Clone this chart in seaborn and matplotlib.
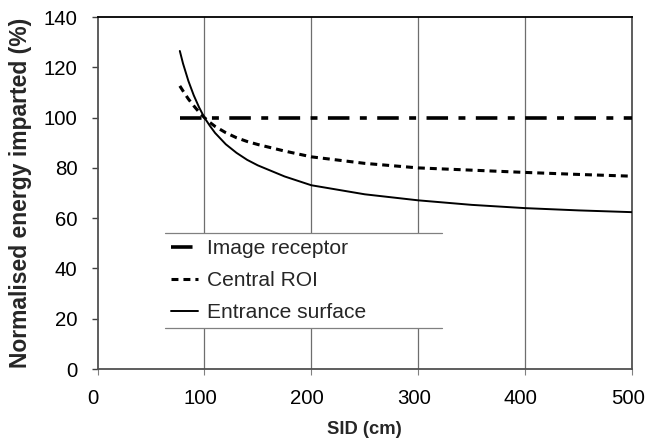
import numpy as np
import pandas as pd
import seaborn as sns
import matplotlib.pyplot as plt
import matplotlib.transforms as mtransforms
from matplotlib.lines import Line2D

# ------------------------------------------------------------
# DATA
# ------------------------------------------------------------
sid_cm = [77, 80, 85, 90, 95, 100, 105, 110, 120, 130, 140, 150, 175,
          200, 250, 300, 350, 400, 450, 500]
image_receptor = [100, 100, 100, 100, 100, 100, 100, 100, 100, 100,
                  100, 100, 100, 100, 100, 100, 100, 100, 100, 100]
central_roi = [112.6, 110.6, 107.4, 104.7, 102.2, 100.0, 98.1, 96.5, 94.0,
               92.0, 90.5, 89.3, 86.7, 84.4, 81.8, 80.0, 79.1, 78.2, 77.4,
               76.7]
entrance_surface = [126.5, 121.5, 114.6, 108.9, 104.1, 100.0, 96.8, 93.9,
                    89.4, 86.0, 83.2, 81.0, 76.6, 73.1, 69.5, 67.1, 65.3,
                    64.0, 63.1, 62.4]
series_names = ['Image receptor', 'Central ROI', 'Entrance surface']
x_ticks = [0, 100, 200, 300, 400, 500]
y_ticks = [0, 20, 40, 60, 80, 100, 120, 140]

df = pd.DataFrame({
    'SID': sid_cm * 3,
    'value': image_receptor + central_roi + entrance_surface,
    'series': np.repeat(series_names, len(sid_cm)),
})

# ------------------------------------------------------------
# STYLE
# ------------------------------------------------------------
sns.set_theme(style='white')
plt.rcParams['font.family'] = ['Liberation Sans', 'DejaVu Sans']
plt.rcParams['lines.scale_dashes'] = False
FS_TICK = 14.7
FS_LEG = 15.1

line_styles = {
    'Image receptor': dict(lw=2.6, ls=(0, (15.5, 7.5, 5.0, 7.5))),
    'Central ROI': dict(lw=2.2, ls=(0, (5.0, 3.6))),
    'Entrance surface': dict(lw=1.4, ls='-'),
}

fig = plt.figure(figsize=(6.47, 4.42), dpi=100)
ax = fig.add_axes([0.1507, 0.165, 0.8261, 0.7965])

for name in series_names:
    st = line_styles[name]
    sns.lineplot(data=df[df['series'] == name], x='SID', y='value', ax=ax,
                 color='black', lw=st['lw'], linestyle=st['ls'],
                 label=name, zorder=3)

ax.set_xlim(0, 500)
ax.set_ylim(0, 140)
ax.set_xticks(x_ticks)
ax.set_yticks(y_ticks)
for xv in x_ticks[1:-1]:
    ax.axvline(xv, color='#6e6e6e', lw=0.9, zorder=1)

ax.tick_params(axis='y', which='major', direction='out', length=4,
               width=1.0, color='#404040', pad=10.5, labelsize=FS_TICK,
               labelcolor='black', left=True)
ax.tick_params(axis='x', which='major', direction='out', length=4,
               width=0.8, color='#808080', pad=10.5, labelsize=FS_TICK,
               labelcolor='black', bottom=True)

# x tick labels sit a few pixels left of their gridlines in the reference
shift = mtransforms.ScaledTranslation(-3 / 72, 0, fig.dpi_scale_trans)
for lab in ax.get_xticklabels():
    lab.set_transform(lab.get_transform() + shift)

ax.set_xlabel('SID (cm)', fontsize=13.2, fontweight='bold', labelpad=9)
ax.set_ylabel('Normalised energy imparted (%)', fontsize=16.5,
              fontweight='bold', labelpad=8)

for side in ['left', 'bottom', 'right']:
    ax.spines[side].set_color('#505050')
    ax.spines[side].set_linewidth(1.3)
ax.spines['top'].set_color('black')
ax.spines['top'].set_linewidth(1.3)

leg = ax.legend(loc='upper left', bbox_to_anchor=(0.126, 0.116, 0.519, 0.270),
                mode='expand', frameon=True, fancybox=False, framealpha=1,
                facecolor='white', edgecolor='none', fontsize=FS_LEG,
                handlelength=1.3, handletextpad=0.42, labelspacing=0.62,
                borderpad=0.29, borderaxespad=0)
leg.set_zorder(5)

# thin grey rules only above and below the legend, like the reference
fig.canvas.draw()
bb = leg.get_frame().get_window_extent().transformed(fig.transFigure.inverted())
for yy in (bb.y0, bb.y1):
    fig.add_artist(Line2D([bb.x0, bb.x1], [yy, yy], color='#808080',
                          lw=0.9, zorder=6))

fig.savefig('out.png', dpi=100)
